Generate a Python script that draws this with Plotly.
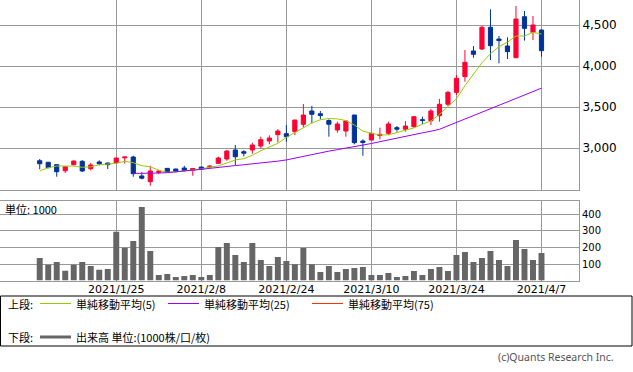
import plotly.graph_objects as go

# ---------------- data ----------------
dates = [
    "2021/1/12", "2021/1/13", "2021/1/14", "2021/1/15", "2021/1/18", "2021/1/19", "2021/1/20", "2021/1/21", "2021/1/22",
    "2021/1/25", "2021/1/26", "2021/1/27", "2021/1/28", "2021/1/29",
    "2021/2/1", "2021/2/2", "2021/2/3", "2021/2/4", "2021/2/5",
    "2021/2/8", "2021/2/9", "2021/2/10", "2021/2/12",
    "2021/2/15", "2021/2/16", "2021/2/17", "2021/2/18", "2021/2/19",
    "2021/2/22", "2021/2/24", "2021/2/25", "2021/2/26",
    "2021/3/1", "2021/3/2", "2021/3/3", "2021/3/4", "2021/3/5",
    "2021/3/8", "2021/3/9", "2021/3/10", "2021/3/11", "2021/3/12",
    "2021/3/15", "2021/3/16", "2021/3/17", "2021/3/18", "2021/3/19",
    "2021/3/22", "2021/3/23", "2021/3/24", "2021/3/25", "2021/3/26",
    "2021/3/29", "2021/3/30", "2021/3/31",
    "2021/4/1", "2021/4/2", "2021/4/5", "2021/4/6", "2021/4/7",
]

open_ = [2845, 2826, 2797, 2723, 2797, 2838, 2748, 2830, 2817, 2820,
         2880, 2890, 2659, 2590, 2703, 2752, 2744, 2756, 2730, 2768,
         2770, 2813, 2866, 2976, 2955, 2976, 3024, 3085, 3163, 3175,
         3199, 3289, 3451, 3418, 3335, 3220, 3207, 3402, 3085, 3098,
         3152, 3179, 3248, 3230, 3260, 3345, 3333, 3394, 3533, 3679,
         3870, 4183, 4207, 4472, 4329, 4244, 4101, 4601, 4411, 4439]
high = [2866, 2830, 2800, 2780, 2850, 2852, 2818, 2850, 2820, 2882,
        2890, 2906, 2703, 2784, 2735, 2755, 2746, 2784, 2758, 2770,
        2793, 2894, 2976, 3037, 2972, 3065, 3138, 3155, 3232, 3280,
        3345, 3537, 3514, 3451, 3350, 3321, 3333, 3405, 3106, 3183,
        3248, 3321, 3268, 3329, 3390, 3382, 3476, 3598, 3695, 3890,
        4195, 4244, 4488, 4691, 4366, 4350, 4732, 4671, 4610, 4447]
low = [2740, 2755, 2650, 2696, 2785, 2706, 2727, 2790, 2744, 2815,
       2810, 2650, 2618, 2540, 2680, 2700, 2703, 2715, 2662, 2738,
       2752, 2805, 2845, 2793, 2898, 2931, 2992, 3045, 3069, 3077,
       3158, 3252, 3301, 3350, 3138, 3187, 3138, 3045, 2906, 3090,
       3106, 3159, 3199, 3199, 3248, 3293, 3280, 3321, 3512, 3646,
       3809, 4101, 4195, 4073, 4033, 4085, 4100, 4309, 4317, 4114]
close = [2808, 2760, 2711, 2772, 2841, 2720, 2793, 2808, 2797, 2878,
         2890, 2687, 2632, 2720, 2718, 2708, 2720, 2725, 2750, 2740,
         2778, 2878, 2963, 2894, 2937, 3037, 3102, 3122, 3207, 3138,
         3341, 3402, 3411, 3396, 3290, 3293, 3329, 3065, 3068, 3179,
         3167, 3293, 3230, 3268, 3382, 3337, 3451, 3533, 3679, 3850,
         4045, 4143, 4472, 4248, 4310, 4175, 4573, 4459, 4500, 4187]

ma5 = [2720, 2760, 2780, 2780, 2780, 2765, 2770, 2796, 2800, 2813,
       2838, 2821, 2784, 2772, 2728, 2704, 2708, 2724, 2732, 2744,
       2768, 2780, 2821, 2854, 2870, 2911, 2967, 3016, 3057, 3130,
       3191, 3250, 3305, 3345, 3360, 3355, 3335, 3280, 3205, 3180,
       3160, 3160, 3190, 3220, 3245, 3290, 3330, 3410, 3500, 3600,
       3760, 3900, 4040, 4150, 4236, 4290, 4366, 4366, 4411, 4390]

ma25_start = 11
ma25 = [2690, 2690, 2690, 2695, 2700, 2708, 2716, 2726, 2740,
        2752, 2766, 2776, 2786, 2796, 2805, 2815, 2828, 2840, 2855,
        2878, 2900, 2920, 2940, 2962, 2980, 2997, 3014, 3035, 3055,
        3077, 3100, 3120, 3140, 3165, 3185, 3205, 3228, 3270, 3312,
        3354, 3396, 3438, 3480, 3522, 3564, 3606, 3648, 3690, 3730]

volume = [136, 96, 112, 60, 96, 112, 88, 66, 70, 295,
          199, 239, 444, 179, 34, 40, 22, 28, 34, 22,
          34, 203, 227, 155, 112, 227, 124, 88, 143, 118,
          98, 197, 98, 52, 88, 52, 70, 76, 82, 34,
          34, 46, 22, 28, 58, 34, 70, 82, 58, 155,
          173, 112, 136, 179, 124, 88, 245, 191, 124, 167]

date_ticks = ["2021/1/25", "2021/2/8", "2021/2/24", "2021/3/10", "2021/3/24", "2021/4/7"]
price_ticks = [3000, 3500, 4000, 4500]
volume_ticks = [100, 200, 300, 400]

legend_labels = ["単純移動平均(5)", "単純移動平均(25)", "単純移動平均(75)"]
legend_colors = ["#99cc00", "#9900ff", "#ff3300"]

# ---------------- layout helpers ----------------
W, H = 633, 372
PW = 579  # plot area width (px)


def px(x):
    return x / PW


def py(y):
    return 1 - y / H


RED = "#ff0033"
BLUE = "#003399"
GRID = "#999999"

fig = go.Figure()

fig.add_trace(go.Candlestick(
    x=dates, open=open_, high=high, low=low, close=close,
    increasing=dict(line=dict(color=RED, width=1), fillcolor=RED),
    decreasing=dict(line=dict(color=BLUE, width=1), fillcolor=BLUE),
    whiskerwidth=0, xaxis="x", yaxis="y", hoverinfo="skip", showlegend=False,
))
fig.add_trace(go.Scatter(
    x=dates, y=ma5, mode="lines", line=dict(color="#99cc00", width=1),
    xaxis="x", yaxis="y", hoverinfo="skip", showlegend=False,
))
fig.add_trace(go.Scatter(
    x=dates[ma25_start:], y=ma25, mode="lines", line=dict(color="#9900ff", width=1),
    xaxis="x", yaxis="y", hoverinfo="skip", showlegend=False,
))
fig.add_trace(go.Bar(
    x=dates, y=volume, marker=dict(color="#666666", line=dict(width=0)), width=0.7,
    xaxis="x2", yaxis="y2", hoverinfo="skip", showlegend=False,
))

xrange = [-4.67, 63.41]
axis_common = dict(showline=True, mirror=True, linecolor=GRID, linewidth=1,
                   showgrid=True, gridcolor=GRID, gridwidth=1, zeroline=False,
                   ticks="", automargin=False, fixedrange=True)

fig.update_layout(
    width=W, height=H,
    margin=dict(l=0, r=W - PW, t=0, b=0),
    paper_bgcolor="white", plot_bgcolor="white",
    font=dict(family="DejaVu Sans", color="#000000"),
    hovermode=False,
    xaxis=dict(domain=[0, 1], anchor="y", type="category", categoryorder="array",
               categoryarray=dates, range=xrange, tickvals=date_ticks,
               showticklabels=False, rangeslider=dict(visible=False), **axis_common),
    yaxis=dict(domain=[py(190), 1], anchor="x", side="right", range=[2488, 4805],
               tickvals=price_ticks, tickformat=",", tickfont=dict(size=12),
               **axis_common),
    xaxis2=dict(domain=[0, 1], anchor="y2", type="category", categoryorder="array",
                categoryarray=dates, range=xrange, tickvals=date_ticks, ticktext=date_ticks,
                tickangle=0, tickfont=dict(size=11), ticklabelstandoff=-2, **axis_common),
    yaxis2=dict(domain=[py(280.6), py(201)], anchor="x2", side="right", range=[0, 480.7],
                tickvals=volume_ticks, tickfont=dict(size=10), **axis_common),
    bargap=0.3,
)

shapes = []
annotations = []
CJK = "Noto Sans CJK JP"

# legend box
shapes.append(dict(type="rect", xref="paper", yref="paper",
                   x0=px(0.5), x1=px(632), y0=py(296), y1=py(346),
                   line=dict(color="#000000", width=1), fillcolor="rgba(0,0,0,0)"))

row1, row2 = 303.5, 337
annotations.append(dict(xref="paper", yref="paper", x=px(7), y=py(row1), text="上段:",
                        showarrow=False, xanchor="left", yanchor="middle", borderpad=0,
                        font=dict(family=CJK, size=11, color="#000")))
starts = [40, 168, 312]
for i, (lab, col) in enumerate(zip(legend_labels, legend_colors)):
    x0 = starts[i]
    shapes.append(dict(type="line", xref="paper", yref="paper",
                       x0=px(x0), x1=px(x0 + 31), y0=py(row1), y1=py(row1),
                       line=dict(color=col, width=1)))
    annotations.append(dict(xref="paper", yref="paper", x=px(x0 + 35), y=py(row1), text=lab,
                            showarrow=False, xanchor="left", yanchor="middle", borderpad=0,
                            font=dict(family=CJK, size=11, color="#000")))

annotations.append(dict(xref="paper", yref="paper", x=px(7), y=py(row2), text="下段:",
                        showarrow=False, xanchor="left", yanchor="middle", borderpad=0,
                        font=dict(family=CJK, size=11, color="#000")))
shapes.append(dict(type="line", xref="paper", yref="paper",
                   x0=px(40), x1=px(71), y0=py(row2), y1=py(row2),
                   line=dict(color="#666666", width=3)))
annotations.append(dict(xref="paper", yref="paper", x=px(75), y=py(row2),
                        text="出来高 単位:(1000株/口/枚)",
                        showarrow=False, xanchor="left", yanchor="middle", borderpad=0,
                        font=dict(family=CJK, size=11, color="#000")))

# volume unit label
annotations.append(dict(xref="paper", yref="paper", x=px(4), y=py(209), text="単位: 1000",
                        showarrow=False, xanchor="left", yanchor="middle", borderpad=0,
                        font=dict(family=CJK, size=11, color="#000")))

# copyright
annotations.append(dict(xref="paper", yref="paper", x=px(615), y=py(357),
                        text="(c)Quants Research Inc.",
                        showarrow=False, xanchor="right", yanchor="middle", borderpad=0,
                        font=dict(family="Noto Sans", size=10.5, color="#555555")))

fig.update_layout(shapes=shapes, annotations=annotations)

fig.write_html("out.html", config={"displayModeBar": False, "staticPlot": True},
               post_script="document.body.style.margin='0';")
